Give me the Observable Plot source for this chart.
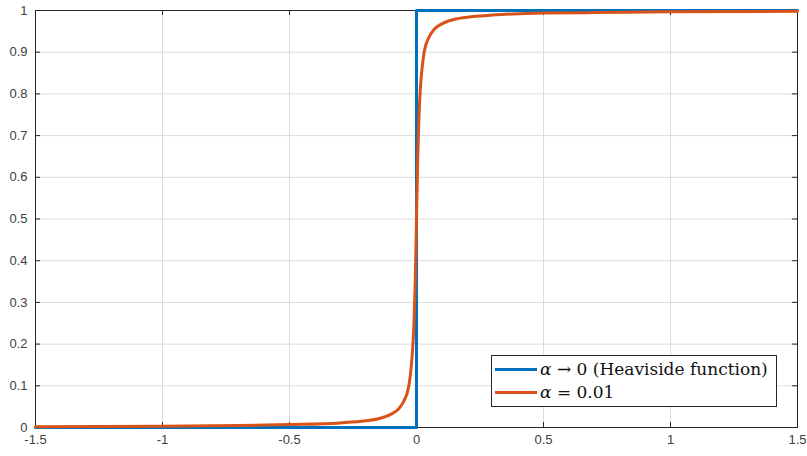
<!DOCTYPE html>
<html>
<head>
<meta charset="utf-8">
<script src="https://cdn.jsdelivr.net/npm/d3@7"></script>
<script src="https://cdn.jsdelivr.net/npm/@observablehq/plot@0.6"></script>
<style>
  html, body { margin: 0; padding: 0; background: #fff; }
  #wrap { position: relative; width: 807px; height: 456px; }
  #legend {
    position: absolute; left: 491px; top: 355px; width: 286px; height: 52px;
    border: 1px solid #262626; background: #fff; box-sizing: border-box;
    font-family: "DejaVu Serif", "Liberation Serif", serif; font-size: 17px; color: #111;
  }
  .row { position: absolute; left: 3px; height: 22px; display: flex; align-items: center; white-space: pre; }
  .sw { width: 42px; height: 3px; margin-right: 3px; }
  .gr { font-style: italic; }
</style>
</head>
<body>
<div id="wrap"></div>
<script>
// Tick values
const xTicks = [-1.5, -1, -0.5, 0, 0.5, 1, 1.5];
const yTicks = [0, 0.1, 0.2, 0.3, 0.4, 0.5, 0.6, 0.7, 0.8, 0.9, 1];

// Series: Heaviside step (alpha -> 0)
const heaviX = [-1.5, 0, 0, 1.5];
const heaviY = [0, 0, 1, 1];

// Series: alpha = 0.01
const smoothX = [-1.5, -1, -0.7, -0.5, -0.3, -0.2, -0.15, -0.1, -0.07, -0.05, -0.03, -0.02, -0.015, -0.01, -0.005, 0, 0.005, 0.01, 0.015, 0.02, 0.03, 0.05, 0.07, 0.1, 0.15, 0.2, 0.3, 0.5, 0.7, 1, 1.5];
const smoothY = [0.002, 0.003, 0.005, 0.007, 0.011, 0.016, 0.021, 0.032, 0.045, 0.063, 0.10, 0.15, 0.19, 0.25, 0.35, 0.5, 0.65, 0.75, 0.81, 0.85, 0.90, 0.937, 0.955, 0.968, 0.979, 0.984, 0.989, 0.994, 0.995, 0.997, 0.998];

const seriesColors = ["#0072BD", "#D95319"];
const legendParts = [
  [["α", "gr"], [" → 0 (Heaviside function)", ""]],
  [["α", "gr"], [" = 0.01", ""]]
];

const heavi = heaviX.map((x, i) => ({x, y: heaviY[i]}));
const smooth = smoothX.map((x, i) => ({x, y: smoothY[i]}));

const fmt = d => String(d);

const chart = Plot.plot({
  width: 807,
  height: 456,
  marginLeft: 35,
  marginRight: 10,
  marginTop: 10,
  marginBottom: 29,
  style: {fontFamily: "'Liberation Sans', Arial, sans-serif", fontSize: "13px", color: "#404040", background: "#fff"},
  x: {domain: [-1.5, 1.5], label: null},
  y: {domain: [0, 1], label: null},
  marks: [
    Plot.gridX(xTicks, {stroke: "#dcdcdc", strokeOpacity: 1}),
    Plot.gridY(yTicks, {stroke: "#dcdcdc", strokeOpacity: 1}),
    Plot.axisX(xTicks, {tickSize: 0, tickPadding: 7, tickFormat: fmt, fill: "#404040", label: null}),
    Plot.axisY(yTicks, {tickSize: 0, tickPadding: 8, tickFormat: fmt, fill: "#404040", label: null}),
    Plot.frame({stroke: "#262626"}),
    Plot.ruleX(xTicks, {x: d => d, y1: 0, y2: 0.012, stroke: "#262626"}),
    Plot.ruleX(xTicks, {x: d => d, y1: 1, y2: 0.988, stroke: "#262626"}),
    Plot.ruleY(yTicks, {y: d => d, x1: -1.5, x2: -1.48, stroke: "#262626"}),
    Plot.ruleY(yTicks, {y: d => d, x1: 1.5, x2: 1.48, stroke: "#262626"}),
    Plot.line(heavi, {x: "x", y: "y", stroke: seriesColors[0], strokeWidth: 3}),
    Plot.line(smooth, {x: "x", y: "y", stroke: seriesColors[1], strokeWidth: 3, curve: "monotone-x"})
  ]
});

const wrap = document.getElementById("wrap");
wrap.appendChild(chart);

const legend = document.createElement("div");
legend.id = "legend";
legendParts.forEach((parts, i) => {
  const row = document.createElement("div");
  row.className = "row";
  row.style.top = (2 + i * 23) + "px";
  const sw = document.createElement("div");
  sw.className = "sw";
  sw.style.background = seriesColors[i];
  row.appendChild(sw);
  parts.forEach(([txt, cls]) => {
    const s = document.createElement("span");
    if (cls) s.className = cls;
    s.textContent = txt;
    row.appendChild(s);
  });
  legend.appendChild(row);
});
wrap.appendChild(legend);
</script>
</body>
</html>
